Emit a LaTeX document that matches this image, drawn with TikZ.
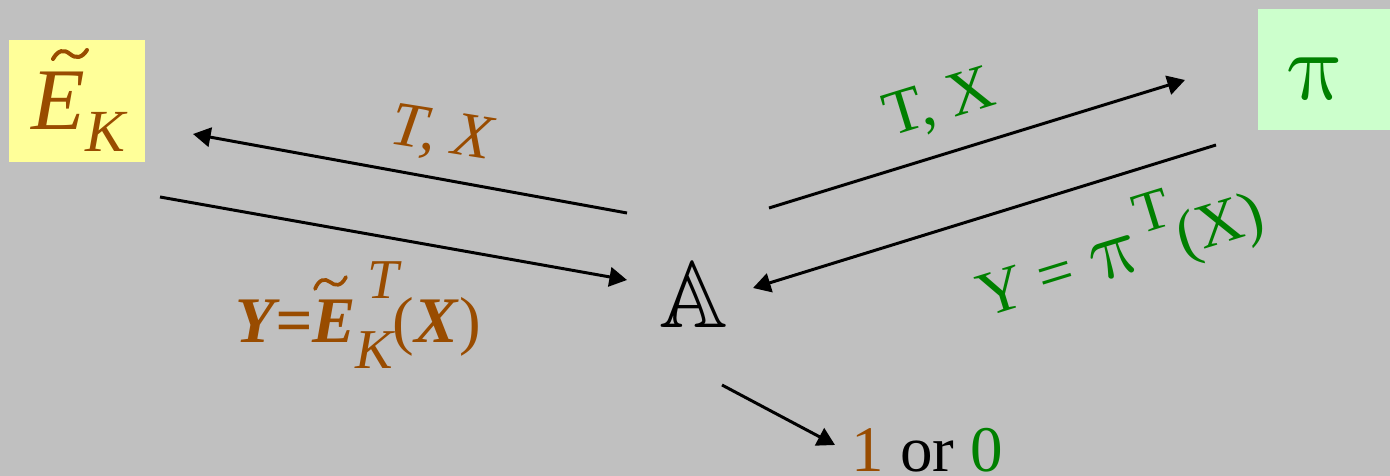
\documentclass[tikz,border=0pt]{standalone}
\usepackage{fontspec}
\setmainfont{Liberation Serif}
\usepackage{amssymb}
\usetikzlibrary{arrows.meta}
\definecolor{bg}{RGB}{192,192,192}
\definecolor{brn}{RGB}{153,76,0}
\definecolor{grn}{RGB}{0,128,0}
\definecolor{ylw}{RGB}{255,255,153}
\definecolor{lgrn}{RGB}{204,255,204}
\newcommand{\fs}[1]{\fontsize{#1}{#1}\selectfont}
\newcommand{\uppi}[1]{\tikz[baseline=0pt]\node[inner sep=0pt,outer sep=0pt,anchor=base,xslant=-0.22,scale=#1,font=\fs{10}]{$\pi$};}
\begin{document}
\begin{tikzpicture}[x=0.02cm,y=-0.02cm,
  conn/.style={line width=1.7pt,-{Triangle[length=10pt,width=11pt]}},
  box/.style={inner sep=0pt,minimum width=#1},
  lbl/.style={inner sep=0pt},
  tld/.style={draw=brn,line cap=round}]
\useasboundingbox[fill=bg] (0,0) rectangle (1390,476);
% boxes
\node[box=2.72cm,minimum height=2.44cm,fill=ylw] (ebox) at (77,101) {};
\node[box=2.64cm,minimum height=2.42cm,fill=lgrn] (pbox) at (1324,69.5) {};
\node[lbl,anchor=base west,text=brn] (etext) at (31,130) {\fs{50}\itshape E\raisebox{-12.5pt}{\fs{34}K}};
\draw[tld,line width=2.3pt] (53,59) .. controls (58,50) and (64,49) .. (70,54) .. controls (76,59) and (82,58) .. (87,50);
\node[lbl,anchor=base,text=grn,xslant=-0.22,scale=5.5] (pitext) at (1322,100) {$\pi$};
% A
\node[lbl,anchor=base,scale=5.4] (A) at (694,328) {$\mathbb{A}$};
% coordinates
\coordinate (a1s) at (627,213); \coordinate (a1e) at (193,134);
\coordinate (a2s) at (160,197); \coordinate (a2e) at (627,280);
\coordinate (a3s) at (769,208); \coordinate (a3e) at (1185,80);
\coordinate (a4s) at (1216,145); \coordinate (a4e) at (753,288);
\coordinate (a5s) at (722,385); \coordinate (a5e) at (835,445);
\draw[conn] (a1s) -- (a1e);
\draw[conn] (a2s) -- (a2e);
\draw[conn] (a3s) -- (a3e);
\draw[conn] (a4s) -- (a4e);
\draw[conn] (a5s) -- (a5e);
% labels
\node[lbl,text=brn,rotate=-9] (l1) at (441,136) {\fs{36}\itshape T, X};
\node[lbl,anchor=base west,text=brn] (l2) at (235,342) {\fs{37}{\bfseries\itshape Y=E}\rlap{\hspace{7pt}\raisebox{25pt}{\fs{32}\itshape T}}\raisebox{-15pt}{\fs{32}\itshape K}(\textbf{\textit{X}})};
\draw[tld,line width=2.1pt] (315,289) .. controls (319,279) and (325,278) .. (330,282) .. controls (335,286) and (341,287) .. (346,277);
\node[lbl,text=grn,rotate=17.1] (l3) at (940,105) {\fs{36}T, X};
\node[lbl,text=grn,rotate=17.1] (l4) at (1118,246) {\fs{36}Y = \uppi{4.8}\raisebox{19pt}{\fs{33}T}(X)};
\node[lbl,anchor=base west] (l5) at (851,471) {\fs{37}\textcolor{brn}{1} or \textcolor{grn}{0}};
\end{tikzpicture}
\end{document}
